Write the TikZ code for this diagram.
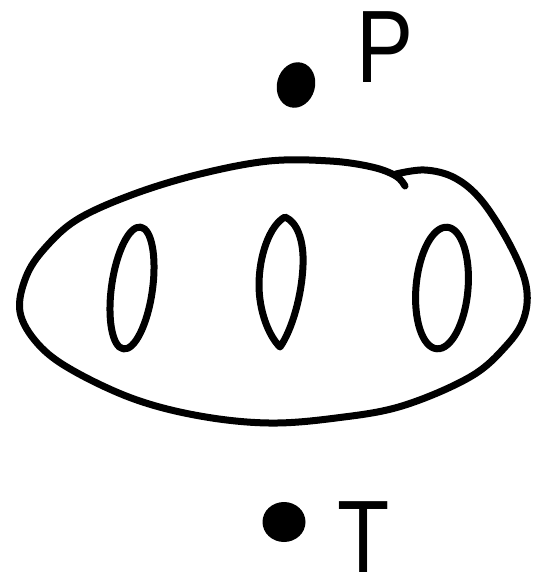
\documentclass[tikz,border=0pt]{standalone}
\usepackage{fontspec}
\setmainfont{Liberation Sans}
\begin{document}
\begin{tikzpicture}[x=1pt,y=-1pt,
  stroke/.style={line width=7pt,line cap=round,line join=round},
  letter/.style={font=\fontsize{103}{103}\selectfont,inner sep=0pt,xscale=0.83}]
\useasboundingbox (0,0) rectangle (538,581);
\fill[white] (0,0) rectangle (538,581);
% outer closed curve (hand drawn, with overlap notch at top right)
\draw[stroke] plot[smooth, tension=0.6] coordinates {
  (396,174) (425,170) (455,178) (482,201) (510,245) (526,285) (524,318)
  (506,346) (470,377) (402,406) (336,418) (269,423) (200,416) (134,399)
  (72,370) (38,344) (20,312) (26,277) (45,248) (78,219) (134,194)
  (200,174) (269,161) (330,161) (372,167) (396,176) (405,186)};
% inner loops
\draw[stroke, rotate around={-8:(132,288)}] (132,288) ellipse [x radius=20.5, y radius=61.5];
\draw[stroke] (285,217) .. controls (297,222) and (304,240) .. (303,265)
  .. controls (302,295) and (292,330) .. (280,347)
  .. controls (268,335) and (259,310) .. (259,285)
  .. controls (259,255) and (270,225) .. (285,217) -- cycle;
\draw[stroke, rotate around={-5:(442,288)}] (442,288) ellipse [x radius=26, y radius=61];
% points
\fill[rotate around={-15:(296,85)}] (296,85) ellipse [x radius=19, y radius=23];
\node[letter,anchor=north west] (plabel) at (356,11) {P};
\fill (284,522) ellipse [x radius=21.5, y radius=20];
\node[letter,anchor=north west] (tlabel) at (337,501) {T};
\end{tikzpicture}
\end{document}
